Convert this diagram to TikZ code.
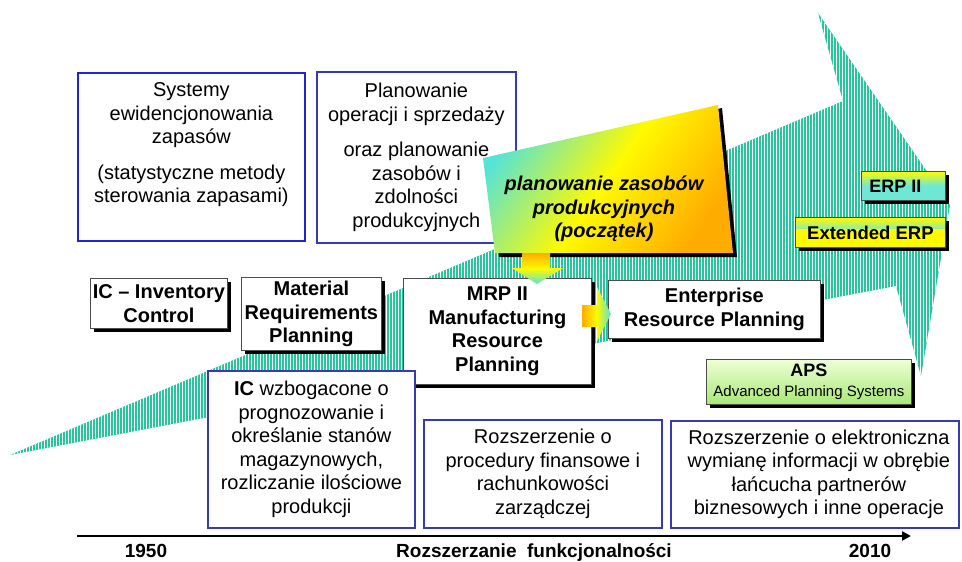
\documentclass[tikz,border=0pt]{standalone}
\usepackage{fontspec}
\setmainfont{Liberation Sans}
\usetikzlibrary{shadows,arrows.meta}
\definecolor{hatch}{RGB}{40,196,160}
\definecolor{boxblueA}{RGB}{34,34,214}
\definecolor{boxblue}{RGB}{58,58,176}
\definecolor{erpcyan}{RGB}{110,232,212}
\definecolor{apstop}{RGB}{238,255,214}
\definecolor{apsbot}{RGB}{168,232,118}
\definecolor{warm}{RGB}{255,172,0}
\definecolor{cool}{RGB}{86,228,214}
\definecolor{sun}{RGB}{255,250,0}
\begin{document}
\begin{tikzpicture}[x=1pt,y=-1pt,
  body/.style={font=\fontsize{20}{23.5}\selectfont, align=center, inner sep=0pt},
  heavy/.style={font=\fontsize{20}{23.5}\selectfont\bfseries, align=center, inner sep=0pt},
  bluebox/.style={draw=boxblue, line width=1.8pt, fill=white, inner sep=0pt, anchor=north west},
  whitebox/.style={draw=black!70, line width=0.8pt, fill=white, inner sep=0pt, anchor=north west,
    drop shadow={shadow xshift=3.5pt, shadow yshift=-3.5pt, fill=black, opacity=1}},
  axislabel/.style={anchor=base, inner sep=0pt, font=\fontsize{19}{22}\selectfont\bfseries}]
\useasboundingbox (0,0) rectangle (962,562);
\fill[white] (0,0) rectangle (962,562);

% rising hatched arrow
\fill[hatch] (10,455) -- (843,101) -- (818,13) -- (950,205) -- (921,376) -- (896,286) -- cycle;
\begin{scope}
  \clip (10,455) -- (843,101) -- (818,13) -- (950,205) -- (921,376) -- (896,286) -- cycle;
  \foreach \x in {11,14,...,953} \draw[white, line width=0.9pt] (\x,0) -- (\x,470);
\end{scope}

% upper description boxes
\node[bluebox, draw=boxblueA, minimum width=227pt, minimum height=168pt] (inv) at (77,72) {};
\node[body, yshift=12pt] (invtxt) at (inv.center)
  {Systemy\\ewidencjonowania\\zapasów\\[12pt](statystyczne metody\\sterowania zapasami)};
\node[bluebox, minimum width=199pt, minimum height=171pt] (sop) at (316,71) {};
\node[body] (soptxt) at (sop.center)
  {Planowanie\\operacji i sprzedaży\\[12pt]oraz planowanie\\zasobów i\\zdolności\\produkcyjnych};

% slanted highlight card
\fill[black] (487,161) -- (722,108) -- (737,257) -- (499,257) -- cycle;
\shade[top color=cool, bottom color=warm, middle color=sun, shading angle=55]
  (483,158) -- (718,105) -- (733,253) -- (495,253) -- cycle;
\node[heavy, font=\fontsize{20}{23.5}\selectfont\bfseries\itshape] (start) at (604,209)
  {planowanie zasobów\\produkcyjnych\\(początek)};

% system generations
\node[whitebox, heavy, minimum width=137pt, minimum height=50pt] (ic) at (90,278) {IC – Inventory\\Control};
\node[whitebox, heavy, minimum width=140pt, minimum height=73pt] (mrp) at (241,277) {Material\\Requirements\\Planning};
\node[whitebox, heavy, minimum width=188pt, minimum height=106pt] (mrp2) at (403,278) {MRP II\\Manufacturing\\Resource\\Planning};
\node[whitebox, heavy, minimum width=212pt, minimum height=58pt] (erp) at (608,280) {Enterprise\\Resource Planning};

% block arrows
\shade[top color=warm, bottom color=cool, middle color=sun]
  (522,253) -- (550,253) -- (550,268) -- (563,268) -- (537,284) -- (512,268) -- (522,268) -- cycle;
\shade[left color=warm, right color=cool, middle color=sun]
  (582,305) -- (597,305) -- (597,287) -- (611,314) -- (597,341) -- (597,327) -- (582,327) -- cycle;

% later extensions
\node[whitebox, minimum width=84pt, minimum height=29pt, top color=sun, bottom color=erpcyan, middle color=erpcyan] (erp2) at (861,171) {};
\node[heavy, font=\fontsize{18}{20}\selectfont\bfseries] (erp2txt) at ([xshift=-8pt]erp2.center) {ERP II};
\node[whitebox, minimum width=150pt, minimum height=30pt, fill=sun,
  font=\fontsize{18.5}{20}\selectfont\bfseries,
  path picture={\shade[top color=sun, bottom color=sun, middle color=erpcyan]
    ([yshift=-2pt]path picture bounding box.north west) rectangle ([yshift=-11pt]path picture bounding box.north east);}]
  (exterp) at (795,217) {Extended ERP};
\node[whitebox, minimum width=205pt, minimum height=45pt, top color=apstop, bottom color=apsbot,
  align=center, font=\fontsize{15}{20}\selectfont] (aps) at (706,359)
  {{\fontsize{18}{20}\selectfont\bfseries APS}\\Advanced Planning Systems};

% lower description boxes
\node[bluebox, minimum width=207pt, minimum height=157pt] (icplus) at (207,370) {};
\node[body] (icplustxt) at (icplus.center)
  {\textbf{IC} wzbogacone o\\prognozowanie i\\określanie stanów\\magazynowych,\\rozliczanie ilościowe\\produkcji};
\node[bluebox, minimum width=238pt, minimum height=108pt] (fin) at (423,419) {};
\node[body] (fintxt) at (fin.center)
  {Rozszerzenie o\\procedury finansowe i\\rachunkowości\\zarządczej};
\node[bluebox, minimum width=288pt, minimum height=107pt] (sc) at (670,420) {};
\node[body] (sctxt) at ([xshift=4pt]sc.center)
  {Rozszerzenie o elektroniczna\\wymianę informacji w obrębie\\łańcucha partnerów\\biznesowych i inne operacje};

% time axis
\coordinate (t0) at (77,536);
\coordinate (t1) at (911,536);
\draw[line width=2.6pt, -{Triangle[length=9pt,width=9pt]}] (t0) -- (t1);
\node[axislabel] (y1950) at (146,557) {1950};
\node[axislabel] (axtitle) at (534,557) {Rozszerzanie\ \ funkcjonalności};
\node[axislabel] (y2010) at (870,557) {2010};
\end{tikzpicture}
\end{document}
